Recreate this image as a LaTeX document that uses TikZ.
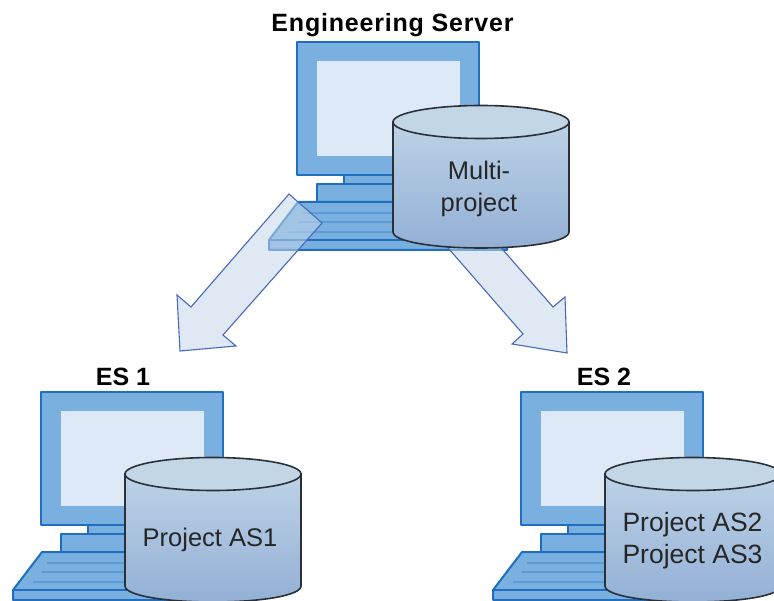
\documentclass[tikz,border=0pt]{standalone}
\usepackage{fontspec}
\setmainfont{Liberation Sans}
\definecolor{mon}{HTML}{7AB0E0}
\definecolor{monline}{HTML}{1F6FBE}
\definecolor{scr}{HTML}{DEE9F7}
\definecolor{stripe}{HTML}{5B9BD6}
\definecolor{cyltop}{HTML}{C3D6E6}
\definecolor{cylhi}{HTML}{BDD2E7}
\definecolor{cyllo}{HTML}{93B0D5}
\definecolor{cylline}{HTML}{2B3036}
\definecolor{arrowline}{HTML}{4A68BC}
\definecolor{arrowfill}{HTML}{C3D7EA}
\tikzset{
  monbox/.style={draw=monline,fill=mon,line width=2pt,line join=round},
  screenbox/.style={fill=scr},
  keystripe/.style={stripe,line width=1.3pt},
  cylbody/.style={draw=cylline,line width=1.6pt,top color=cylhi,bottom color=cyllo},
  cyllid/.style={draw=cylline,line width=1.6pt,fill=cyltop},
  bigarrow/.style={draw=arrowline,line width=1.1pt,fill=arrowfill,fill opacity=.55,line join=miter},
  heading/.style={font=\fontsize{25}{28}\selectfont\bfseries,text=black,inner sep=0pt},
  cyltext/.style={font=\fontsize{25.5}{32}\selectfont,text=black!85,inner sep=0pt,align=center}
}
\newcommand{\computerdraw}[2]{%
  \begin{scope}[shift={(#1,#2)}]
    \draw[monbox] (47,133) rectangle (150,142);
    \draw[monbox] (20,142) rectangle (165,160);
    \draw[monbox] (1,160) -- (181,160) -- (210,198) -- (210,208) -- (-28,208) -- (-28,198) -- cycle;
    \draw[monline,line width=1.5pt] (-28,198) -- (210,198);
    \draw[keystripe] (6,171) -- (188,171);
    \draw[keystripe] (1,180) -- (196,180);
    \draw[keystripe] (-8,190) -- (203,190);
    \draw[monbox] (0,0) rectangle (182,133);
    \fill[screenbox] (20,19) rectangle (163,114);
  \end{scope}}
\newcommand{\cylinderdraw}[3]{% left x, lid centre y, side height
  \begin{scope}[shift={(#1,#2)}]
    \path[cylbody] (0,0) -- (0,#3) .. controls (0,#3+9.5) and (40,#3+16) .. (88,#3+16)
       .. controls (136,#3+16) and (176,#3+9.5) .. (176,#3) -- (176,0) -- cycle;
    \path[cyllid] (88,0) ellipse [x radius=88pt,y radius=16.5pt];
  \end{scope}}
\begin{document}
\begin{tikzpicture}[x=1pt,y=-1pt]
  \useasboundingbox (0,0) rectangle (774,601);
  \clip (0,0) rectangle (774,601);
  % computers
  \computerdraw{297}{42}
  \computerdraw{41}{392}
  \computerdraw{521}{392}
  % arrows
  \path[bigarrow] (289,194) -- (322,223) -- (223,335) -- (236,346) -- (180,351) -- (177,295) -- (191,307) -- cycle;
  \path[bigarrow] (415,210) -- (468,210) -- (553,307) -- (565,297) -- (567,353) -- (512,344) -- (523,334) -- cycle;
  % cylinders
  \cylinderdraw{393}{122}{110}
  \cylinderdraw{125}{474}{112}
  \cylinderdraw{605}{474}{112}
  % labels
  \node[heading,font=\fontsize{25}{28}\selectfont\bfseries\addfontfeature{LetterSpace=3.2}] (server) at (392.5,25.5) {Engineering Server};
  \node[heading] (es1) at (123,377) {ES 1};
  \node[heading] (es2) at (604,377) {ES 2};
  \node[cyltext] (multi) at (479,188.5) {Multi-\\project};
  \node[cyltext] (as1) at (210,540) {Project AS1};
  \node[cyltext,font=\fontsize{26.5}{32}\selectfont] (as23) at (692.5,541) {Project AS2\\Project AS3};
\end{tikzpicture}
\end{document}
